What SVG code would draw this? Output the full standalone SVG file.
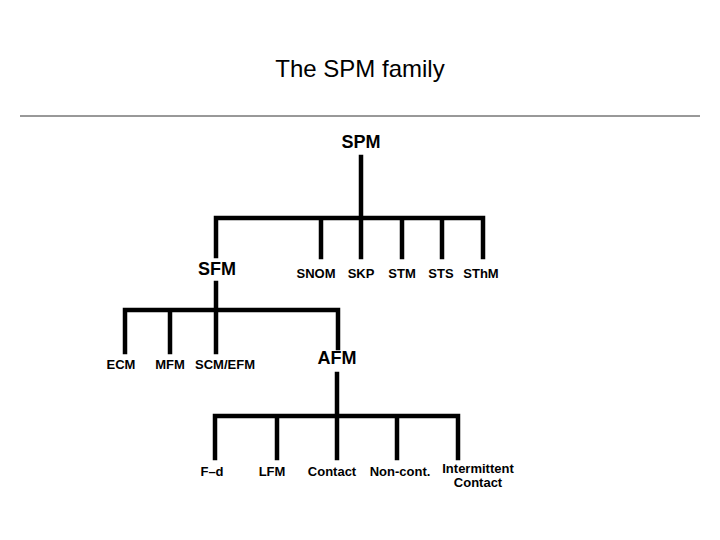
<svg xmlns="http://www.w3.org/2000/svg" width="720" height="540" viewBox="0 0 720 540">
<style>
.t{font-family:"Liberation Sans",Arial,sans-serif;font-weight:bold;fill:#000;text-anchor:middle}
.big{font-size:18px}.sm{font-size:13px}
.c{stroke:#000;stroke-width:4.5;fill:none;stroke-linecap:square}
</style>
<rect width="720" height="540" fill="#fff"/>
<text x="360" y="77" font-family="Liberation Sans,Arial,sans-serif" font-size="24" text-anchor="middle">The SPM family</text>
<line x1="20" y1="116" x2="700" y2="116" stroke="#333" stroke-width="1"/>
<g id="connectors">
<path class="c" d="M361,157V218M216,218H483M216,218V256M321,218V257M402,218V257M442,218V257M483,218V257M361,218V257"/>
<path class="c" d="M216,283V310M125,310H338M125,310V352M170,310V352M216,310V352M338,310V348"/>
<path class="c" d="M337,374V416M215,416H458M215,416V458M277,416V458M337,416V458M397,416V458M458,416V458"/>
</g>
<g id="SPM"><text class="t big" x="361" y="148">SPM</text></g>
<g id="SFM"><text class="t big" x="217" y="275">SFM</text></g>
<g id="SNOM"><text class="t sm" x="316" y="278">SNOM</text></g>
<g id="SKP"><text class="t sm" x="361" y="278">SKP</text></g>
<g id="STM"><text class="t sm" x="402" y="278">STM</text></g>
<g id="STS"><text class="t sm" x="441" y="278">STS</text></g>
<g id="SThM"><text class="t sm" x="481" y="278">SThM</text></g>
<g id="ECM"><text class="t sm" x="121" y="369">ECM</text></g>
<g id="MFM"><text class="t sm" x="170" y="369">MFM</text></g>
<g id="SCMEFM"><text class="t sm" x="225" y="369">SCM/EFM</text></g>
<g id="AFM"><text class="t big" x="337" y="364">AFM</text></g>
<g id="Fd"><text class="t sm" x="212" y="476">F–d</text></g>
<g id="LFM"><text class="t sm" x="272" y="476">LFM</text></g>
<g id="Contact"><text class="t sm" x="332" y="476">Contact</text></g>
<g id="Noncont"><text class="t sm" x="400" y="476">Non-cont.</text></g>
<g id="Intermittent"><text class="t sm" x="478" y="473">Intermittent</text><text class="t sm" x="478" y="487">Contact</text></g>
</svg>
